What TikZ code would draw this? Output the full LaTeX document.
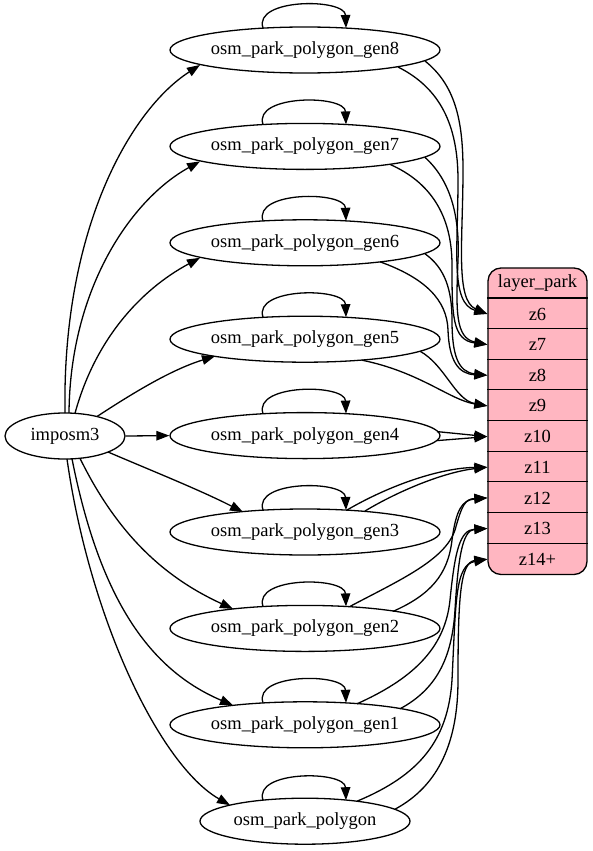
\documentclass[tikz,border=0pt]{standalone}
\usepackage{fontspec}
\setmainfont{Liberation Serif}
\usetikzlibrary{shapes.geometric,arrows.meta,calc}
\definecolor{lightpink}{HTML}{FFB6C1}
\begin{document}
\begin{tikzpicture}[x=1pt,y=-1pt,line width=1.3pt,
  every node/.style={font=\fontsize{18.5}{22}\selectfont},
  ell/.style={ellipse,draw,inner sep=0pt,minimum height=46pt},
  gen/.style={ell,minimum width=270pt},
  arr/.style={-{Triangle[length=13pt,width=9.5pt]}},
  row/.style={minimum width=99pt,minimum height=30.65pt,inner sep=0pt},
  recbox/.style={draw,fill=lightpink,rounded corners=13pt,minimum width=99pt,minimum height=306.5pt,inner sep=0pt}]
\useasboundingbox (0,0) rectangle (592,851);
% nodes
\node[ell,minimum width=120pt] (imp) at (65,436) {imposm3};
\node[gen] (g8) at (305,50) {osm\_park\_polygon\_gen8};
\node[gen] (g7) at (305,146.4) {osm\_park\_polygon\_gen7};
\node[gen] (g6) at (305,242.8) {osm\_park\_polygon\_gen6};
\node[gen] (g5) at (305,339.2) {osm\_park\_polygon\_gen5};
\node[gen] (g4) at (305,435.6) {osm\_park\_polygon\_gen4};
\node[gen] (g3) at (305,532) {osm\_park\_polygon\_gen3};
\node[gen] (g2) at (305,628.4) {osm\_park\_polygon\_gen2};
\node[gen] (g1) at (305,724.8) {osm\_park\_polygon\_gen1};
\node[ell,minimum width=210pt] (g0) at (305,821.2) {osm\_park\_polygon};
% record
\node[recbox] (lp) at (537.5,421.25) {};
\node[row] (hd) at (537.5,283.3) {layer\_park};
\node[row] (z6) at (537.5,314) {z6};
\node[row] (z7) at (537.5,344.6) {z7};
\node[row] (z8) at (537.5,375.3) {z8};
\node[row] (z9) at (537.5,405.9) {z9};
\node[row] (z10) at (537.5,436.6) {z10};
\node[row] (z11) at (537.5,467.2) {z11};
\node[row] (z12) at (537.5,497.9) {z12};
\node[row] (z13) at (537.5,528.5) {z13};
\node[row] (z14) at (537.5,559.2) {z14+};
\foreach \r in {z6,z7,z8,z9,z10,z11,z12,z13,z14}{\draw[line width=1.1pt] (\r.north west) -- (\r.north east);}
% self loops
\foreach \g in {g8,g7,g6,g5,g4,g3,g2,g1}{
  \draw[arr] ($(\g)+(-42,-22)$) .. controls +(-10,-30) and +(-1,-30) .. ($(\g)+(41,-22)$);}
\draw[arr] ($(g0)+(-42,-21)$) .. controls +(-10,-30) and +(-1,-30) .. ($(g0)+(41,-21)$);
% imposm3 -> tables
\draw[arr] ($(imp)+(0,-23)$) .. controls (62,230) and (130,110) .. ($(g8)+(-105,15)$);
\draw[arr] ($(imp)+(4,-23)$) .. controls (70,290) and (130,200) .. ($(g7)+(-105,15)$);
\draw[arr] ($(imp)+(10,-22.7)$) .. controls (95,340) and (140,290) .. ($(g6)+(-105,15)$);
\draw[arr] ($(imp)+(32,-19.5)$) .. controls (130,395) and (170,370) .. ($(g5)+(-90,17)$);
\draw[arr] (imp.east) -- (g4.west);
\draw[arr] ($(imp)+(43,16)$) .. controls (150,470) and (200,490) .. ($(g3)+(-62,-20)$);
\draw[arr] ($(imp)+(15,22.3)$) .. controls (120,540) and (170,580) .. ($(g2)+(-72,-19.5)$);
\draw[arr] ($(imp)+(7,22.8)$) .. controls (100,600) and (150,670) .. ($(g1)+(-72,-19.5)$);
\draw[arr] ($(imp)+(2,23)$) .. controls (90,620) and (160,765) .. ($(g0)+(-75,-16)$);
% tables -> layer_park
\draw[arr] ($(g8)+(120,11)$) .. controls (455,85) and (463,120) .. (463,170) .. controls (463,240) and (455,300) .. (z6.west);
\draw[arr] ($(g8)+(93,17)$) .. controls (440,88) and (458,125) .. (458,180) .. controls (458,250) and (450,303) .. (z6.west);
\draw[arr] ($(g7)+(120,11)$) .. controls (450,180) and (460,215) .. (458,260) .. controls (456,310) and (455,338) .. (z7.west);
\draw[arr] ($(g7)+(85,18)$) .. controls (430,182) and (452,215) .. (452,265) .. controls (452,315) and (452,340) .. (z7.west);
\draw[arr] ($(g6)+(120,11)$) .. controls (445,268) and (452,290) .. (452,320) .. controls (452,355) and (458,372) .. (z8.west);
\draw[arr] ($(g6)+(75,19)$) .. controls (425,278) and (447,300) .. (448,330) .. controls (449,360) and (458,374) .. (z8.west);
\draw[arr] ($(g5)+(115,12)$) .. controls (445,365) and (455,400) .. (z9.west);
\draw[arr] ($(g5)+(57,21)$) .. controls (420,372) and (450,400) .. (z9.west);
\draw[arr] ($(g4)+(132,-4)$) -- (z10.west);
\draw[arr] ($(g4)+(132,5)$) -- (z10.west);
\draw[arr] ($(g3)+(42,-22)$) .. controls (390,485) and (440,468) .. (z11.west);
\draw[arr] ($(g3)+(60,-21)$) .. controls (400,490) and (445,472) .. (z11.west);
\draw[arr] ($(g2)+(45,-22)$) .. controls (400,580) and (445,560) .. (455,530) .. controls (462,505) and (465,499) .. (z12.west);
\draw[arr] ($(g2)+(88,-17)$) .. controls (430,595) and (448,575) .. (452,540) .. controls (456,510) and (462,500) .. (z12.west);
\draw[arr] ($(g1)+(52,-21)$) .. controls (410,680) and (445,650) .. (450,600) .. controls (455,550) and (460,530) .. (z13.west);
\draw[arr] ($(g1)+(95,-16)$) .. controls (435,690) and (452,660) .. (455,610) .. controls (458,560) and (462,530) .. (z13.west);
\draw[arr] ($(g0)+(52,-20)$) .. controls (420,775) and (448,740) .. (452,680) .. controls (456,600) and (455,565) .. (z14.west);
\draw[arr] ($(g0)+(90,-12)$) .. controls (440,785) and (458,740) .. (458,680) .. controls (458,600) and (460,562) .. (z14.west);
\end{tikzpicture}
\end{document}
